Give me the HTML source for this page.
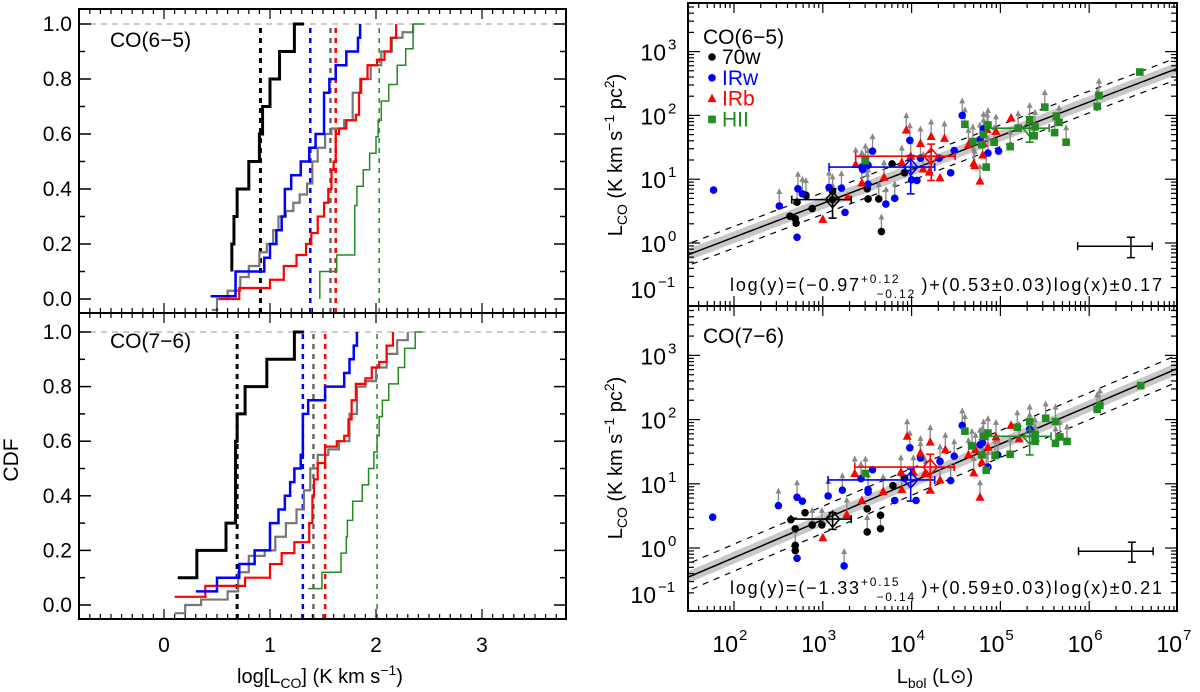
<!DOCTYPE html>
<html><head><meta charset="utf-8"><style>
body{margin:0;background:#fff}
svg{display:block;font-family:"Liberation Sans",sans-serif}
</style></head><body>
<svg id="c" width="1200" height="692" viewBox="0 0 1200 692" xmlns="http://www.w3.org/2000/svg"></svg>
<script>
// ---------- Left CDF data (x = log L_CO, y = CDF level) ----------
const cdfTopBlackX=[0.64,0.64,0.66,0.69,0.80,0.90,0.93,1.00,1.09,1.23,1.32];
const cdfTopBlackY=[0.1,0.2,0.3,0.4,0.5,0.6,0.7,0.8,0.9,1.0,1.0];
const cdfTopBlueX=[0.44,0.675,0.946,1.0,1.06,1.11,1.14,1.20,1.29,1.37,1.43,1.51,1.56,1.62,1.72,1.83,1.85];
const cdfTopBlueY=[0.01,0.1,0.15,0.2,0.25,0.3,0.4,0.45,0.5,0.55,0.6,0.75,0.8,0.85,0.9,0.95,1.0];
const cdfTopRedX=[0.52,0.71,1.0,1.13,1.25,1.34,1.39,1.45,1.51,1.55,1.58,1.60,1.62,1.65,1.72,1.81,1.84,1.86,1.92,2.01,2.08,2.14,2.19];
const cdfTopRedY=[0.0,0.04,0.07,0.12,0.16,0.2,0.24,0.3,0.35,0.4,0.47,0.5,0.6,0.62,0.65,0.67,0.75,0.8,0.85,0.87,0.9,0.95,1.0];
const cdfTopGrayX=[0.45,0.5,0.6,0.72,0.8,0.9,0.97,1.03,1.08,1.15,1.22,1.28,1.35,1.40,1.45,1.52,1.58,1.70,1.78,1.85,1.95,2.05,2.15,2.25,2.35];
const cdfTopGrayY=[-0.04,0.0,0.03,0.08,0.12,0.17,0.2,0.25,0.3,0.32,0.35,0.38,0.42,0.5,0.55,0.6,0.62,0.65,0.75,0.8,0.85,0.9,0.95,0.97,1.0];
const cdfTopGreenX=[1.47,1.47,1.63,1.80,1.82,1.88,1.94,2.0,2.02,2.05,2.12,2.20,2.28,2.35,2.45];
const cdfTopGreenY=[0.0,0.1,0.16,0.34,0.41,0.47,0.53,0.59,0.65,0.72,0.78,0.85,0.91,1.0,1.0];
const medTop=[0.91,1.38,1.57,1.62,2.03];

const cdfBotBlackX=[0.13,0.31,0.585,0.675,0.69,0.765,0.97,1.23,1.32];
const cdfBotBlackY=[0.1,0.2,0.3,0.6,0.7,0.8,0.9,1.0,1.0];
const cdfBotBlueX=[0.30,0.50,0.71,0.855,1.0,1.08,1.14,1.19,1.23,1.29,1.31,1.36,1.52,1.70,1.75,1.79,1.82];
const cdfBotBlueY=[0.05,0.1,0.15,0.2,0.3,0.35,0.4,0.45,0.5,0.55,0.7,0.75,0.8,0.85,0.9,0.95,1.0];
const cdfBotRedX=[0.10,0.39,0.765,1.0,1.11,1.23,1.37,1.40,1.415,1.45,1.52,1.63,1.70,1.74,1.77,1.81,1.90,1.96,2.03,2.10,2.16];
const cdfBotRedY=[0.03,0.07,0.1,0.15,0.19,0.23,0.3,0.4,0.46,0.52,0.58,0.6,0.62,0.68,0.75,0.81,0.83,0.87,0.89,0.95,1.0];
const cdfBotGrayX=[0.10,0.2,0.35,0.6,0.7,0.8,0.95,1.05,1.15,1.25,1.32,1.38,1.45,1.55,1.65,1.75,1.82,1.9,2.0,2.1,2.2,2.3];
const cdfBotGrayY=[-0.03,0.0,0.02,0.05,0.12,0.18,0.2,0.25,0.3,0.35,0.42,0.5,0.55,0.57,0.6,0.7,0.8,0.82,0.87,0.92,0.97,1.0];
const cdfBotGreenX=[1.36,1.49,1.67,1.72,1.73,1.78,1.87,1.93,1.98,2.01,2.03,2.06,2.12,2.21,2.27,2.37,2.44];
const cdfBotGreenY=[0.06,0.12,0.19,0.25,0.31,0.38,0.44,0.5,0.56,0.62,0.69,0.75,0.81,0.87,0.94,1.0,1.0];
const medBot=[0.69,1.31,1.41,1.52,2.01];
const medColors=["#000","#0000ff","#666","#ff0000","#228b22"];
const cdfXTicks=[0,1,2,3];
const cdfYTicks=["0.0","0.2","0.4","0.6","0.8","1.0"];

// ---------- Right scatter data (log Lbol, log LCO) ----------
const t70wX=[2.63,2.69,2.70,2.71,2.81,2.88,3.11,3.11,3.50,3.51,3.63,3.66,3.78,3.92];
const t70wY=[0.42,0.38,0.31,0.64,0.75,0.54,0.81,0.68,0.85,0.69,0.69,0.18,1.24,1.10];
const t70wA=[0,0,0,1,1,0,1,1,1,0,1,1,0,0];
const tIRwX=[1.77,2.51,2.71,2.72,2.77,3.07,3.21,3.25,3.44,3.45,3.51,3.51,3.56,3.71,3.81,3.98,4.0,4.06,4.10,4.31,4.44,4.48,4.57,4.77,4.81,4.86,4.98];
const tIRwY=[0.83,0.58,0.09,0.85,0.77,0.87,0.86,0.48,1.19,1.15,1.22,0.92,1.44,0.61,0.70,1.61,0.99,0.98,1.33,1.33,1.10,1.45,2.0,1.62,1.79,1.41,1.44];
const tIRwA=[0,1,0,1,1,1,1,0,1,1,1,1,1,1,1,1,1,0,1,0,0,0,1,1,1,1,0];
const tIRbX=[3.0,3.28,3.37,3.44,3.69,3.89,3.94,3.99,4.10,4.13,4.22,4.20,4.32,4.37,4.64,4.70,4.71,4.77,4.80,4.81,4.85,4.95,5.12];
const tIRbY=[0.37,0.72,1.23,0.94,1.03,1.26,1.77,1.36,1.56,1.16,1.67,1.11,1.02,1.64,1.54,1.25,1.21,0.97,1.38,1.56,1.78,1.75,1.96];
const tIRbA=[0,0,1,1,1,1,1,1,1,1,1,1,0,1,1,1,1,1,1,1,1,1,0];
const tHIIX=[3.48,4.60,4.69,4.79,4.81,4.84,4.86,4.93,5.11,5.20,5.33,5.38,5.39,5.50,5.61,5.63,5.66,5.74,6.09,6.11,6.57];
const tHIIY=[1.29,1.86,1.59,1.54,1.70,1.19,1.85,1.58,1.51,1.80,1.93,1.68,1.82,2.13,1.73,1.99,1.89,1.58,2.14,2.31,2.68];
const tHIIA=[1,1,1,1,1,1,1,1,1,1,1,0,1,1,1,0,1,1,1,1,0];

const b70wX=[2.64,2.69,2.69,2.69,2.80,2.88,2.99,3.50,3.50,3.65,3.65,3.79,3.92];
const b70wY=[0.44,0.30,0.04,-0.04,0.55,0.36,0.36,0.61,0.25,0.51,0.30,0.97,1.09];
const b70wA=[0,0,1,0,0,1,1,0,1,0,1,0,0];
const bIRwX=[1.76,2.50,2.71,2.71,2.77,3.06,3.22,3.24,3.43,3.51,3.51,3.56,3.81,3.98,4.05,4.10,4.32,4.44,4.48,4.57,4.77,4.80,4.97,4.86,5.33];
const bIRwY=[0.48,0.66,0.79,-0.16,0.73,0.81,0.90,-0.28,1.08,0.91,0.87,1.22,0.74,1.56,0.74,1.40,1.35,1.05,1.43,1.91,1.61,1.64,1.45,1.26,1.85];
const bIRwA=[0,1,1,0,0,1,1,1,1,1,0,0,0,1,0,1,1,1,1,1,1,1,1,1,1];
const bIRbX=[3.0,3.27,3.36,3.44,3.68,3.88,3.89,3.95,4.02,4.10,4.15,4.21,4.21,4.32,4.38,4.64,4.70,4.72,4.77,4.79,4.86,4.95,5.12,5.21];
const bIRbY=[0.16,0.52,1.16,0.74,0.88,1.18,0.91,1.74,1.18,1.48,1.16,1.65,0.90,1.06,1.53,1.45,1.17,1.53,0.79,1.34,1.57,1.73,1.91,1.70];
const bIRbA=[0,1,1,0,1,1,1,1,1,1,1,1,1,1,1,1,1,1,1,1,1,1,0,1];
const bHIIX=[3.48,4.60,4.68,4.79,4.81,4.84,4.86,4.94,5.11,5.19,5.33,5.39,5.39,5.51,5.62,5.62,5.67,5.75,6.09,6.12,6.58];
const bHIIY=[1.16,1.82,1.59,1.45,1.74,1.21,1.79,1.44,1.46,1.88,1.97,1.66,1.77,2.02,1.97,1.63,1.73,1.66,2.16,2.22,2.53];
const bHIIA=[1,1,1,1,1,1,1,1,1,1,1,1,1,1,1,1,1,1,1,1,0];

// means: [x, xlo, xhi, y, ylo, yhi]
const tMeans=[[3.11,2.65,3.32,0.68,0.39,0.85],[3.99,3.07,4.26,1.19,0.77,1.37],[4.22,3.37,4.49,1.36,0.98,1.55],[5.33,4.84,5.55,1.80,1.58,1.98]];
const bMeans=[[3.11,2.64,3.32,0.45,0.29,0.55],[3.99,3.06,4.26,1.06,0.73,1.23],[4.21,3.36,4.48,1.26,0.87,1.46],[5.33,4.86,5.57,1.74,1.45,1.93]];
const tSample=[6.47,5.87,6.71,-0.05,-0.23,0.09];
const bSample=[6.48,5.88,6.72,-0.05,-0.22,0.09];
const tFit=[-0.97,0.53,0.17];
const bFit=[-1.33,0.59,0.21];
const logXTicks=[2,3,4,5,6,7];
const logYTicks=[-1,0,1,2,3];

const NS="http://www.w3.org/2000/svg";
const svg=document.getElementById('c');
function mk(tag,attrs,parent){const e=document.createElementNS(NS,tag);for(const k in attrs)e.setAttribute(k,attrs[k]);(parent||svg).appendChild(e);return e;}

// ---------- Left panels ----------
const LX0=79,LX1=566;
function lx(v){return 164+v*106;}
const leftPanels=[
 {name:'top',y0:9,y1:313,fy:v=>299-v*275,label:'CO(6\u22125)',ly:47,
  series:[[cdfTopGrayX,cdfTopGrayY,'#777',2.2],[cdfTopGreenX,cdfTopGreenY,'#228b22',1.5],[cdfTopRedX,cdfTopRedY,'#ff0000',2.2],[cdfTopBlueX,cdfTopBlueY,'#0000ff',2.5],[cdfTopBlackX,cdfTopBlackY,'#000',3]],med:medTop},
 {name:'bottom',y0:313,y1:619,fy:v=>605-v*273,label:'CO(7\u22126)',ly:348,
  series:[[cdfBotGrayX,cdfBotGrayY,'#777',2.2],[cdfBotGreenX,cdfBotGreenY,'#228b22',1.5],[cdfBotRedX,cdfBotRedY,'#ff0000',2.2],[cdfBotBlueX,cdfBotBlueY,'#0000ff',2.5],[cdfBotBlackX,cdfBotBlackY,'#000',3]],med:medBot}
];
const seriesNames=['all','hii','irb','irw','70w'];
leftPanels.forEach(p=>{
  const g=mk('g',{});
  
  
  const ref=mk('line',{x1:LX0,x2:LX1,y1:p.fy(1),y2:p.fy(1),stroke:'#bbb','stroke-width':1.5,'stroke-dasharray':'6,5'},g);
  
  
  p.med.forEach((m,i)=>{
    const l=mk('line',{x1:lx(m),x2:lx(m),y1:p.y1,y2:p.fy(1.0),stroke:medColors[i],'stroke-width':i==0?3:(i==4?1.5:2.5),'stroke-dasharray':'5,5'},g);
    
    
  });
  p.series.forEach((s,si)=>{
    let d='M'+lx(s[0][0])+','+p.fy(s[1][0]);
    for(let i=1;i<s[0].length;i++){d+=' H'+lx(s[0][i])+' V'+p.fy(s[1][i]);}
    const path=mk('path',{d:d,fill:'none',stroke:s[2],'stroke-width':s[3]},g);
    
    
  });
  const fr=mk('rect',{x:LX0,y:p.y0,width:LX1-LX0,height:p.y1-p.y0,fill:'none',stroke:'#000','stroke-width':2},g);
  
  
  for(let v=-0.8;v<=3.79;v+=0.1){
    const x=lx(v);const major=Math.abs(v-Math.round(v))<0.01;const len=major?10:5;
    mk('line',{x1:x,x2:x,y1:p.y1,y2:p.y1-len,stroke:'#000','stroke-width':1.2},g);
    mk('line',{x1:x,x2:x,y1:p.y0,y2:p.y0+len,stroke:'#000','stroke-width':1.2},g);
  }
  for(let k=0;k<=10;k++){
    const y=p.fy(k/10);const len=k%2==0?12:6;
    mk('line',{x1:LX0,x2:LX0+len,y1:y,y2:y,stroke:'#000','stroke-width':1.5},g);
    mk('line',{x1:LX1,x2:LX1-len,y1:y,y2:y,stroke:'#000','stroke-width':1.5},g);
  }
  cdfYTicks.forEach(t=>{
    const tx=mk('text',{x:72,y:p.fy(parseFloat(t))+7,'font-size':21,'text-anchor':'end'},g);tx.textContent=t;
    
    
  });
  const lab=mk('text',{x:110,y:p.ly,'font-size':21},g);lab.textContent=p.label;
  
  
});
cdfXTicks.forEach(t=>{
  const tx=mk('text',{x:lx(t),y:652,'font-size':21,'text-anchor':'middle'});tx.textContent=t;
  
  
});

// ---------- Right panels ----------
const RX0=688,RX1=1177;
function rx(l){return 734+(l-2)*88.8;}
const rightPanels=[
 {name:'top',y0:3,y1:306,fy:l=>243-l*63.8,label:'CO(6\u22125)',ly:44,
  sets:[[t70wX,t70wY,t70wA,'#000','c'],[tIRwX,tIRwY,tIRwA,'#0000ff','c'],[tIRbX,tIRbY,tIRbA,'#ff0000','t'],[tHIIX,tHIIY,tHIIA,'#228b22','s']],
  means:tMeans,sample:tSample,fit:tFit,eq:['\u22120.97','+0.12','\u22120.12','0.53','0.17'],eqy:291,legend:true},
 {name:'bottom',y0:306,y1:611,fy:l=>548-l*64.2,label:'CO(7\u22126)',ly:343,
  sets:[[b70wX,b70wY,b70wA,'#000','c'],[bIRwX,bIRwY,bIRwA,'#0000ff','c'],[bIRbX,bIRbY,bIRbA,'#ff0000','t'],[bHIIX,bHIIY,bHIIA,'#228b22','s']],
  means:bMeans,sample:bSample,fit:bFit,eq:['\u22121.33','+0.15','\u22120.14','0.59','0.21'],eqy:594,legend:false}
];
const setNames=['70w','irw','irb','hii'];
const meanCols=['#000','#0000ff','#ff0000','#228b22'];
function marker(g,x,y,col,shape){
  if(shape=='c')return mk('circle',{cx:x,cy:y,r:3.8,fill:col},g);
  if(shape=='t')return mk('polygon',{points:(x)+','+(y-5)+' '+(x-4.5)+','+(y+3.5)+' '+(x+4.5)+','+(y+3.5),fill:col},g);
  return mk('rect',{x:x-3.8,y:y-3.8,width:7.6,height:7.6,fill:col},g);
}
rightPanels.forEach(p=>{
  const g=mk('g',{});
  
  
  const clipId='clip'+p.name;
  const cp=mk('clipPath',{id:clipId},g);
  mk('rect',{x:RX0,y:p.y0,width:RX1-RX0,height:p.y1-p.y0},cp);
  const inner=mk('g',{'clip-path':'url(#'+clipId+')'},g);
  const a=p.fit[0],b=p.fit[1],s=p.fit[2];
  const lxa=1.4,lxb=7.1;
  const band=mk('line',{x1:rx(lxa),y1:p.fy(a+b*lxa),x2:rx(lxb),y2:p.fy(a+b*lxb),stroke:'#c8c8c8','stroke-width':11},inner);
  
  
  const fl=mk('line',{x1:rx(lxa),y1:p.fy(a+b*lxa),x2:rx(lxb),y2:p.fy(a+b*lxb),stroke:'#000','stroke-width':1.5},inner);
  
  
  [s,-s].forEach(o=>{
    const dl=mk('line',{x1:rx(lxa),y1:p.fy(a+o+b*lxa),x2:rx(lxb),y2:p.fy(a+o+b*lxb),stroke:'#000','stroke-width':1.2,'stroke-dasharray':'6,6'},inner);
    
    
  });
  p.sets.forEach(st=>{
    for(let i=0;i<st[0].length;i++){ if(!st[2][i])continue;
      const x=rx(st[0][i]),y=p.fy(st[1][i]);
      const ar=mk('g',{},inner);
      
      
      mk('line',{x1:x,y1:y,x2:x,y2:y-15,stroke:'#888','stroke-width':1.3},ar);
      mk('polygon',{points:x+','+(y-18)+' '+(x-3)+','+(y-12)+' '+(x+3)+','+(y-12),fill:'#888'},ar);
    }
  });
  p.sets.forEach((st,si)=>{
    for(let i=0;i<st[0].length;i++){
      const m=marker(inner,rx(st[0][i]),p.fy(st[1][i]),st[3],st[4]);
      
      
    }
  });
  p.means.forEach((m,i)=>{
    const mg=mk('g',{stroke:meanCols[i],'stroke-width':1.6,fill:'none'},inner);
    
    
    const x=rx(m[0]),y=p.fy(m[3]);
    mk('line',{x1:rx(m[1]),x2:rx(m[2]),y1:y,y2:y},mg);
    mk('line',{x1:rx(m[1]),x2:rx(m[1]),y1:y-4,y2:y+4},mg);
    mk('line',{x1:rx(m[2]),x2:rx(m[2]),y1:y-4,y2:y+4},mg);
    mk('line',{x1:x,x2:x,y1:p.fy(m[4]),y2:p.fy(m[5])},mg);
    mk('line',{x1:x-4,x2:x+4,y1:p.fy(m[4]),y2:p.fy(m[4])},mg);
    mk('line',{x1:x-4,x2:x+4,y1:p.fy(m[5]),y2:p.fy(m[5])},mg);
    mk('polygon',{points:x+','+(y-8)+' '+(x+7)+','+y+' '+x+','+(y+8)+' '+(x-7)+','+y},mg);
  });
  const sm=p.sample;const sg=mk('g',{stroke:'#000','stroke-width':1.5},g);
  
  
  const sx=rx(sm[0]),sy=p.fy(sm[3]);
  mk('line',{x1:rx(sm[1]),x2:rx(sm[2]),y1:sy,y2:sy},sg);
  mk('line',{x1:rx(sm[1]),x2:rx(sm[1]),y1:sy-4,y2:sy+4},sg);
  mk('line',{x1:rx(sm[2]),x2:rx(sm[2]),y1:sy-4,y2:sy+4},sg);
  mk('line',{x1:sx,x2:sx,y1:p.fy(sm[4]),y2:p.fy(sm[5])},sg);
  mk('line',{x1:sx-4,x2:sx+4,y1:p.fy(sm[4]),y2:p.fy(sm[4])},sg);
  mk('line',{x1:sx-4,x2:sx+4,y1:p.fy(sm[5]),y2:p.fy(sm[5])},sg);
  const fr=mk('rect',{x:RX0,y:p.y0,width:RX1-RX0,height:p.y1-p.y0,fill:'none',stroke:'#000','stroke-width':2},g);
  
  
  for(let d=1;d<=6;d++){for(let k=1;k<=9;k++){
    const l=d+Math.log10(k);const x=rx(l);if(x<RX0||x>RX1)continue;const len=k==1?10:5;
    mk('line',{x1:x,x2:x,y1:p.y1,y2:p.y1-len,stroke:'#000','stroke-width':1.2},g);
    mk('line',{x1:x,x2:x,y1:p.y0,y2:p.y0+len,stroke:'#000','stroke-width':1.2},g);
  }}
  for(let d=-2;d<=3;d++){for(let k=1;k<=9;k++){
    const l=d+Math.log10(k);const y=p.fy(l);if(y<p.y0||y>p.y1)continue;const len=k==1?12:6;
    mk('line',{x1:RX0,x2:RX0+len,y1:y,y2:y,stroke:'#000','stroke-width':1.2},g);
    mk('line',{x1:RX1,x2:RX1-len,y1:y,y2:y,stroke:'#000','stroke-width':1.2},g);
  }}
  logYTicks.forEach(t=>{
    const y=p.fy(t);const yy=t<0?p.y1-8:y+9;
    const ex=t<0?656:666;
    const tx=mk('text',{x:ex,y:yy,'font-size':23,'text-anchor':'end'},g);
    
    
    tx.textContent='10';
    const sup=mk('text',{x:ex+2,y:yy-11,'font-size':15},g);sup.textContent=t<0?'\u22121':String(t);
  });
  const lab=mk('text',{x:703,y:p.ly,'font-size':21},g);lab.textContent=p.label;
  
  
  const eq=mk('text',{x:730,y:p.eqy,'font-size':18},g);
  
  
  eq.innerHTML='log(y)=('+p.eq[0]+'<tspan dy="-8" font-size="12">'+p.eq[1]+'</tspan><tspan dx="-24" dy="15" font-size="12">'+p.eq[2]+'</tspan><tspan dy="-7">\u2009)+('+p.eq[3]+'\u00b10.03)log(x)\u00b1'+p.eq[4]+'</tspan>';
  eq.setAttribute('textLength','432');
  if(p.legend){
    const items=[['70w','#000','c'],['IRw','#0000ff','c'],['IRb','#ff0000','t'],['HII','#228b22','s']];
    items.forEach((it,i)=>{
      const lg=mk('g',{},g);
      
      
      const y=57+i*20.8;
      marker(lg,712,y,it[1],it[2]);
      const tx=mk('text',{x:722,y:y+7,'font-size':21,fill:it[1]},lg);tx.textContent=it[0];
    });
  }
});
logXTicks.forEach(t=>{
  const x=rx(t);
  const tx=mk('text',{x:x+4,y:652,'font-size':23,'text-anchor':'end'});tx.textContent='10';
  
  
  const sup=mk('text',{x:x+5,y:640,'font-size':15});sup.textContent=String(t);
});

let t=mk('text',{x:0,y:0,'font-size':21,'text-anchor':'middle',transform:'translate(18,460) rotate(-90)'});t.textContent='CDF';

t=mk('text',{x:320,y:683,'font-size':20,'text-anchor':'middle'});
t.innerHTML='log[L<tspan font-size="14" dy="5">CO</tspan><tspan dy="-5">] (K km s</tspan><tspan font-size="14" dy="-8">\u22121</tspan><tspan dy="8">)</tspan>';

t=mk('text',{x:935,y:683,'font-size':20,'text-anchor':'middle'});
t.innerHTML='L<tspan font-size="14" dy="5">bol</tspan><tspan dy="-5"> (L\u2299)</tspan>';

[155,458].forEach(cy=>{
  const yt=mk('text',{x:0,y:0,'font-size':20,'text-anchor':'middle',transform:'translate(622,'+cy+') rotate(-90)'});
  yt.innerHTML='L<tspan font-size="14" dy="5">CO</tspan><tspan dy="-5"> (K km s</tspan><tspan font-size="14" dy="-8">\u22121</tspan><tspan dy="8"> pc</tspan><tspan font-size="14" dy="-8">2</tspan><tspan dy="8">)</tspan>';
  
  
});
</script>
</body></html>
